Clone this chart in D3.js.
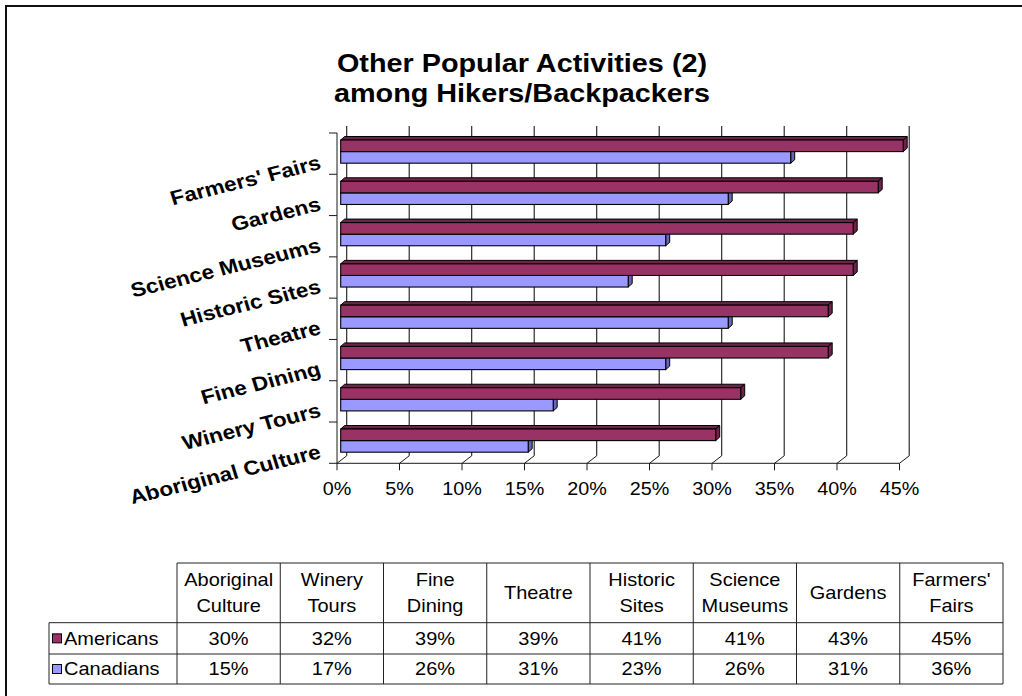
<!DOCTYPE html>
<html>
<head>
<meta charset="utf-8">
<script src="https://cdn.jsdelivr.net/npm/d3@7"></script>
<style>
  html, body { margin: 0; padding: 0; background: #fff; }
  svg { display: block; font-family: "Liberation Sans", Arial, sans-serif; }
</style>
</head>
<body>
<svg id="chart" width="1022" height="696"></svg>
<script>
// Activity categories (bottom to top on the chart, left to right in the table)
const categories = ["Aboriginal Culture", "Winery Tours", "Fine Dining", "Theatre",
                    "Historic Sites", "Science Museums", "Gardens", "Farmers' Fairs"];
const headerLines = [["Aboriginal", "Culture"], ["Winery", "Tours"], ["Fine", "Dining"], ["Theatre"],
                     ["Historic", "Sites"], ["Science", "Museums"], ["Gardens"], ["Farmers'", "Fairs"]];
const seriesNames = ["Americans", "Canadians"];
const americans = [30, 32, 39, 39, 41, 41, 43, 45];
const canadians = [15, 17, 26, 31, 23, 26, 31, 36];
const xTickValues = [0, 5, 10, 15, 20, 25, 30, 35, 40, 45];
const titleLines = ["Other Popular Activities (2)", "among Hikers/Backpackers"];

const colors = { Americans: "#993366", Canadians: "#9999FF" };
const shades = { Americans: "#6e2348", Canadians: "#6666b8" };
const SX = 1.13;               // horizontal text stretch
const series = { Americans: americans, Canadians: canadians };

const svg = d3.select("#chart");

// outer frame
svg.append("rect").attr("x", 6).attr("y", 6).attr("width", 1040).attr("height", 720)
  .attr("fill", "none").attr("stroke", "#111").attr("stroke-width", 2);

// title
titleLines.forEach((t, i) => {
  svg.append("text")
    .attr("transform", `translate(522,${71.5 + i * 30}) scale(${SX},1)`)
    .attr("text-anchor", "middle").attr("font-weight", "bold").attr("font-size", 25.5)
    .attr("fill", "#000").text(t);
});

// scales
const xFront = d3.scaleLinear().domain([0, 45]).range([337, 899.5]);
const depth = { dx: 9.7, dy: -7.5 };
const floorY = 463.3, topY = 126;
const y = d3.scaleBand().domain(categories.slice().reverse()).range([133, floorY]).padding(0);
const bw = y.bandwidth();
const ySeries = d3.scaleBand().domain(seriesNames).range([0.1695 * bw, 0.731 * bw]).padding(0);

const g = svg.append("g");

// back wall gridlines
g.selectAll("line.grid").data(xTickValues).join("line")
  .attr("x1", d => xFront(d) + depth.dx).attr("x2", d => xFront(d) + depth.dx)
  .attr("y1", floorY + depth.dy).attr("y2", topY)
  .attr("stroke", "#1a1a1a").attr("stroke-width", 1.1);

// floor diagonals
g.selectAll("line.floor").data(xTickValues).join("line")
  .attr("x1", d => xFront(d)).attr("y1", floorY)
  .attr("x2", d => xFront(d) + depth.dx).attr("y2", floorY + depth.dy)
  .attr("stroke", "#1a1a1a").attr("stroke-width", 1);

// front value axis line and ticks
g.append("line").attr("x1", xFront(0)).attr("x2", xFront(45))
  .attr("y1", floorY).attr("y2", floorY).attr("stroke", "#1a1a1a");
g.selectAll("line.xt").data(xTickValues).join("line")
  .attr("x1", d => xFront(d)).attr("x2", d => xFront(d))
  .attr("y1", floorY).attr("y2", floorY + 7).attr("stroke", "#1a1a1a");
g.selectAll("text.xl").data(xTickValues).join("text")
  .attr("transform", d => `translate(${xFront(d)},495) scale(${SX},1)`)
  .attr("text-anchor", "middle").attr("font-size", 17.5).attr("fill", "#000")
  .text(d => d + "%");

// category axis
g.append("line").attr("x1", xFront(0)).attr("x2", xFront(0))
  .attr("y1", 133).attr("y2", floorY).attr("stroke", "#1a1a1a");
const catTicks = y.domain().map(c => y(c)).concat([floorY]);
g.selectAll("line.yt").data(catTicks).join("line")
  .attr("x1", xFront(0) - 8).attr("x2", xFront(0))
  .attr("y1", d => d).attr("y2", d => d).attr("stroke", "#1a1a1a");
g.selectAll("text.cat").data(categories).join("text")
  .attr("transform", d => `translate(322,${y(d) + bw / 2 + 15}) scale(${SX},1) rotate(-15.5)`)
  .attr("text-anchor", "end").attr("font-weight", "bold").attr("font-size", 20)
  .attr("fill", "#000").text(d => d);

// 3D bars
const barX0 = xFront(0) + 3.7;
const xBar = d3.scaleLinear().domain([0, 45]).range([barX0, barX0 + 45 * 12.5]);
const bd = { dx: 4, dy: -3.5 };
const barData = [];
["Canadians", "Americans"].forEach(s => {
  categories.forEach((c, i) => barData.push({ s, c, v: series[s][i] }));
});
const bars = g.selectAll("g.bar").data(barData).join("g");
bars.each(function (d) {
  const sel = d3.select(this);
  const x0 = xBar(0), x1 = xBar(d.v);
  const y0 = y(d.c) + ySeries(d.s), h = ySeries.bandwidth();
  sel.append("polygon")
    .attr("points", [[x0, y0], [x0 + bd.dx, y0 + bd.dy], [x1 + bd.dx, y0 + bd.dy], [x1, y0]].join(" "))
    .attr("fill", shades[d.s]).attr("stroke", "#000").attr("stroke-width", 1).attr("stroke-linejoin", "round");
  sel.append("polygon")
    .attr("points", [[x1, y0], [x1 + bd.dx, y0 + bd.dy], [x1 + bd.dx, y0 + h + bd.dy], [x1, y0 + h]].join(" "))
    .attr("fill", shades[d.s]).attr("stroke", "#000").attr("stroke-width", 1).attr("stroke-linejoin", "round");
  sel.append("rect").attr("x", x0).attr("y", y0).attr("width", x1 - x0).attr("height", h)
    .attr("fill", colors[d.s]).attr("stroke", "#000").attr("stroke-width", 1.1);
});

// data table
const tbl = svg.append("g");
const colX = d3.scaleBand().domain(categories).range([177, 1003]).padding(0);
const cw = colX.bandwidth();
const rows = { top: 563, head: 622.7, r1: 654, r2: 684 };
const rowLeft = 49;
const lineCol = "#222";

tbl.append("line").attr("x1", 177).attr("x2", 1003).attr("y1", rows.top).attr("y2", rows.top).attr("stroke", lineCol);
[rows.head, rows.r1, rows.r2].forEach(yy => {
  tbl.append("line").attr("x1", rowLeft).attr("x2", 1003).attr("y1", yy).attr("y2", yy).attr("stroke", lineCol);
});
tbl.append("line").attr("x1", rowLeft).attr("x2", rowLeft).attr("y1", rows.head).attr("y2", rows.r2).attr("stroke", lineCol);
categories.map(c => colX(c)).concat([1003]).forEach(xx => {
  tbl.append("line").attr("x1", xx).attr("x2", xx).attr("y1", rows.top).attr("y2", rows.r2).attr("stroke", lineCol);
});

// header texts
categories.forEach((c, i) => {
  const lines = headerLines[i];
  const cx = colX(c) + cw / 2;
  const mid = (rows.top + rows.head) / 2;
  const lh = 25.6;
  lines.forEach((t, j) => {
    const base = mid + 6.3 + (j - (lines.length - 1) / 2) * lh;
    tbl.append("text").attr("transform", `translate(${cx},${base}) scale(${SX},1)`)
      .attr("text-anchor", "middle").attr("font-size", 17.7).attr("fill", "#000").text(t);
  });
});

// series rows
const rowBands = [[rows.head, rows.r1], [rows.r1, rows.r2]];
seriesNames.forEach((s, k) => {
  const [a, b] = rowBands[k];
  const mid = (a + b) / 2;
  tbl.append("rect").attr("x", 52.5).attr("y", mid - 4.5).attr("width", 9).attr("height", 9)
    .attr("fill", colors[s]).attr("stroke", "#000").attr("stroke-width", 1);
  tbl.append("text").attr("transform", `translate(64,${mid + 6.3}) scale(${SX},1)`)
    .attr("font-size", 17.7).attr("fill", "#000").text(s);
  categories.forEach((c, i) => {
    tbl.append("text").attr("transform", `translate(${colX(c) + cw / 2},${mid + 6.3}) scale(${SX},1)`)
      .attr("text-anchor", "middle").attr("font-size", 17.7).attr("fill", "#000")
      .text(series[s][i] + "%");
  });
});
</script>
</body>
</html>
